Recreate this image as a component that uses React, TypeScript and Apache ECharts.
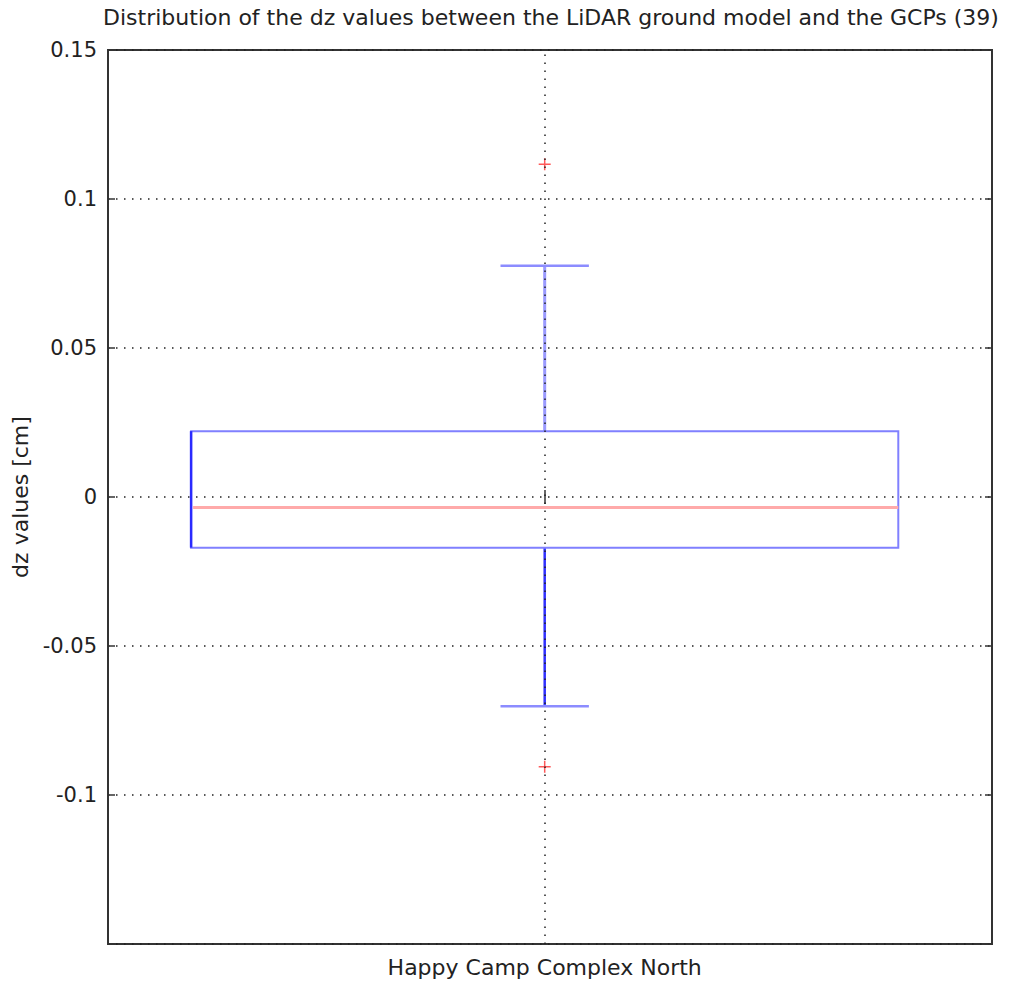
import React, { useEffect, useRef } from "react";
import * as echarts from "echarts";

const titleText = "Distribution of the dz values between the LiDAR ground model and the GCPs (39)";
const yAxisName = "dz values [cm]";
const categories = ["Happy Camp Complex North"];
// [categoryIndex(1-based), min whisker, Q1, median, Q3, max whisker]
const boxStats = [[1, -0.0702, -0.017, -0.0035, 0.0221, 0.0776]];
const outliers = [
  [1, 0.1117],
  [1, -0.0905],
];
const yMin = -0.15;
const yMax = 0.15;
const yStep = 0.05;
const xMin = 0.506;
const xMax = 1.506;

const FONT = "DejaVu Sans";

export default function App() {
  const ref = useRef<HTMLDivElement>(null);
  useEffect(() => {
    if (!ref.current) return;
    const chart = echarts.init(ref.current, null, { renderer: "svg" });
    const dotted = { color: "#222", width: 1.5, type: [1.5, 6.5] as any };
    const tickStyle = { color: "#333", width: 1.5 };
    const option: any = {
      animation: false,
      backgroundColor: "#ffffff",
      grid: {
        show: true,
        left: 108,
        right: 19,
        top: 50,
        bottom: 41,
        borderColor: "#333",
        borderWidth: 2,
      },
      graphic: [
        {
          type: "text",
          x: 551,
          y: 17,
          style: {
            text: titleText,
            textAlign: "center",
            textVerticalAlign: "middle",
            fontFamily: FONT,
            fontSize: 22,
            fill: "#222",
          },
        },
      ],
      xAxis: [
        {
          type: "value",
          min: xMin,
          max: xMax,
          axisLine: { show: false },
          splitLine: { show: false },
          axisTick: {
            show: true,
            inside: true,
            length: 7,
            customValues: [1],
            lineStyle: tickStyle,
          },
          axisLabel: {
            show: true,
            customValues: [1],
            margin: 12,
            color: "#222",
            fontFamily: FONT,
            fontSize: 22,
            formatter: (v: number) => categories[Math.round(v) - 1] ?? "",
          },
        },
        {
          type: "value",
          position: "top",
          min: xMin,
          max: xMax,
          axisLine: { show: false },
          splitLine: { show: false },
          axisLabel: { show: false },
          axisTick: {
            show: true,
            inside: true,
            length: 7,
            customValues: [1],
            lineStyle: tickStyle,
          },
        },
      ],
      yAxis: [
        {
          type: "value",
          min: yMin,
          max: yMax,
          interval: yStep,
          name: yAxisName,
          nameLocation: "middle",
          nameGap: 76,
          nameTextStyle: { color: "#222", fontFamily: FONT, fontSize: 22 },
          axisLine: { show: false },
          axisTick: {
            show: true,
            inside: true,
            length: 7,
            lineStyle: tickStyle,
          },
          splitLine: { show: true, lineStyle: dotted },
          axisLabel: {
            color: "#222",
            fontFamily: FONT,
            fontSize: 21,
            margin: 11,
            formatter: (v: number) =>
              Math.abs(v - yMin) < 1e-9 ? "" : String(+v.toFixed(2)),
          },
        },
        {
          type: "value",
          position: "right",
          min: yMin,
          max: yMax,
          interval: yStep,
          axisLine: { show: false },
          axisLabel: { show: false },
          splitLine: { show: false },
          axisTick: {
            show: true,
            inside: true,
            length: 7,
            lineStyle: tickStyle,
          },
        },
      ],
      series: [
        {
          type: "custom",
          xAxisIndex: 0,
          yAxisIndex: 0,
          data: boxStats,
          encode: { x: 0, y: [1, 2, 3, 4, 5] },
          z: 3,
          renderItem: (params: any, api: any) => {
            const x = api.value(0);
            const pMin = api.coord([x, api.value(1)]);
            const pQ1 = api.coord([x, api.value(2)]);
            const pMed = api.coord([x, api.value(3)]);
            const pQ3 = api.coord([x, api.value(4)]);
            const pMax = api.coord([x, api.value(5)]);
            const cx = pMed[0];
            const halfW = api.size([0.4, 0])[0];
            const capHalf = api.size([0.05, 0])[0];
            return {
              type: "group",
              children: [
                {
                  type: "line",
                  shape: { x1: cx, y1: pQ3[1], x2: cx, y2: pMax[1] },
                  style: { stroke: "#9a9aff", lineWidth: 3 },
                },
                {
                  type: "line",
                  shape: { x1: cx, y1: pQ1[1], x2: cx, y2: pMin[1] },
                  style: { stroke: "#3030ff", lineWidth: 2.5 },
                },
                {
                  type: "line",
                  shape: { x1: cx - capHalf, y1: pMax[1], x2: cx + capHalf, y2: pMax[1] },
                  style: { stroke: "#8c8cff", lineWidth: 2.5 },
                },
                {
                  type: "line",
                  shape: { x1: cx - capHalf, y1: pMin[1], x2: cx + capHalf, y2: pMin[1] },
                  style: { stroke: "#8c8cff", lineWidth: 2.5 },
                },
                {
                  type: "rect",
                  shape: {
                    x: cx - halfW,
                    y: pQ3[1],
                    width: 2 * halfW,
                    height: pQ1[1] - pQ3[1],
                  },
                  style: { fill: "none", stroke: "#8080ff", lineWidth: 2 },
                },
                {
                  type: "line",
                  shape: { x1: cx - halfW, y1: pQ3[1], x2: cx - halfW, y2: pQ1[1] },
                  style: { stroke: "#2a2aff", lineWidth: 2.5 },
                },
                {
                  type: "line",
                  shape: { x1: cx - halfW + 2, y1: pMed[1], x2: cx + halfW, y2: pMed[1] },
                  style: { stroke: "#ffaaaa", lineWidth: 3 },
                },
              ],
            };
          },
        },
        {
          type: "scatter",
          xAxisIndex: 0,
          yAxisIndex: 0,
          data: outliers,
          symbol: "path://M0,5.25H12V6.75H0Z M5.25,0H6.75V12H5.25Z",
          symbolSize: 12,
          itemStyle: { color: "#ff3030" },
          z: 4,
          markLine: {
            silent: true,
            symbol: "none",
            label: { show: false },
            lineStyle: dotted,
            data: [{ xAxis: 1 }],
          },
        },
      ],
    };
    chart.setOption(option);
    return () => chart.dispose();
  }, []);
  return (
    <div
      ref={ref}
      style={{ position: "absolute", left: 0, top: 0, width: 1011, height: 985 }}
    />
  );
}
